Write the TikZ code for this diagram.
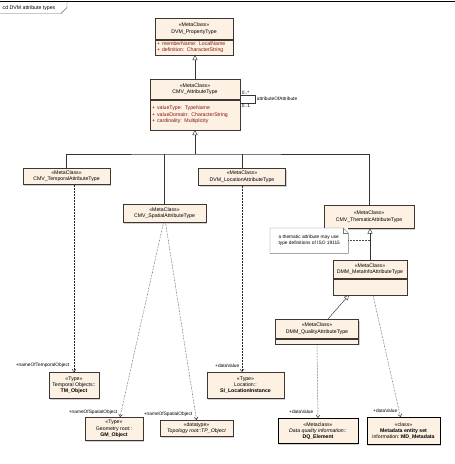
\documentclass[tikz,border=0pt]{standalone}
\usepackage{fontspec}
\setmainfont{Liberation Sans}
\usetikzlibrary{positioning,arrows.meta,shadows}

\definecolor{boxfill}{RGB}{252,241,226}
\definecolor{boxline}{RGB}{60,55,50}
\definecolor{attrred}{RGB}{135,20,20}
\newcommand{\boxfont}{\fontsize{5.2}{6.2}\selectfont}
\newcommand{\pub}{\textcolor{red!85!black}{+}\hspace{2pt}}

\begin{document}
\begin{tikzpicture}[x=1pt,y=-1pt]
  \tikzset{cls/.style={draw=boxline, fill=boxfill, line width=0.5pt, inner sep=1pt, align=center,
      font=\boxfont, drop shadow={shadow xshift=1.3pt, shadow yshift=-1.3pt, fill=black!35}},
    attrs/.style={cls, align=left, text=attrred, inner xsep=2pt},
    thickcls/.style={cls, draw=black, line width=0.9pt},
    gen/.style={-{Triangle[open,length=5pt,width=5pt]}, draw=black!80, line width=0.45pt},
    dep/.style={densely dotted, -{Straight Barb[length=2.5pt,width=4pt]}, draw=black!85, line width=0.5pt},
    lbl/.style={font=\fontsize{4.8}{5.6}\selectfont, inner sep=0.5pt},
    note/.style={fill=white, align=left, font=\fontsize{4.8}{6}\selectfont, inner sep=2pt}}
  \useasboundingbox (0,0) rectangle (455,464);

  \draw[line width=0.7pt] (0,1) -- (455,1);
  \draw[black!60, line width=0.4pt] (0,13.5) -- (61,13.5) -- (67,7.5) -- (67,1);
  \node[lbl, font=\fontsize{5.2}{6}\selectfont, anchor=west] (frame) at (2,8) {cd DVM attribute types};

  \node[cls, minimum width=78, minimum height=21, anchor=north] (prop) at (194,18) {«MetaClass»\\DVM\_PropertyType};
  \node[attrs, text width=74, minimum height=15, below=0pt of prop] (propA) {\pub memberName: LocalName\\\pub definition: CharacterString};

  \node[cls, minimum width=90, minimum height=20, anchor=north] (attr) at (195,79) {«MetaClass»\\CMV\_AttributeType};
  \node[attrs, text width=86, minimum height=30, below=0pt of attr] (attrA) {\pub valueType: TypeName\\\pub valueDomain: CharacterString\\\pub cardinality: Multiplicity};

  \node[cls, minimum width=87, minimum height=16, anchor=north] (temp) at (66.5,168) {«MetaClass»\\CMV\_TemporalAttributeType};
  \node[cls, minimum width=83, minimum height=18, anchor=north] (spat) at (164.5,204) {«MetaClass»\\CMV\_SpatialAttributeType};
  \node[cls, minimum width=87, minimum height=17, anchor=north] (loc) at (242,168) {«MetaClass»\\DVM\_LocationAttributeType};
  \node[cls, minimum width=90, minimum height=23, anchor=north] (them) at (369,205) {«MetaClass»\\CMV\_ThematicAttributeType};

  \node[cls, minimum width=74, minimum height=18, anchor=north] (meta) at (370,260) {«MetaClass»\\DMM\_MetaInfoAttributeType};
  \node[cls, minimum width=74, minimum height=16, below=0pt of meta] (metaA) {};
  \node[cls, minimum width=83, minimum height=19, anchor=north] (qual) at (317,319) {«MetaClass»\\DMM\_QualityAttributeType};
  \node[cls, minimum width=83, minimum height=5, below=0pt of qual] (qualA) {};

  \node[cls, minimum width=50, minimum height=26, anchor=north] (tm) at (74,372) {«Type»\\Temporal Objects::\\\textbf{TM\_Object}};
  \node[cls, minimum width=58, minimum height=23, anchor=north] (gm) at (114,417) {«Type»\\Geometry root::\\\textbf{GM\_Object}};
  \node[cls, minimum width=73, minimum height=16, anchor=north] (tp) at (196.5,420) {«datatype»\\\textit{Topology root::TP\_Object}};
  \node[cls, minimum width=77, minimum height=26, anchor=north] (si) at (245.5,372) {«Type»\\Location::\\\textbf{SI\_LocationInstance}};
  \node[thickcls, minimum width=80, minimum height=25, anchor=north] (dq) at (318,418) {«Metaclass»\\\textit{Data quality information::}\\\textbf{DQ\_Element}};
  \node[thickcls, minimum width=73, minimum height=27, anchor=north] (md) at (403.5,417) {«class»\\\textbf{Metadata entity set}\\information::\textbf{MD\_Metadata}};

  \node[note, minimum width=78, minimum height=25, anchor=north west] (note) at (270,228) {a thematic attribute may use\\type definitions of ISO 19115};
  \draw[black!55, line width=0.4pt] (note.north west) -- ([xshift=-5pt]note.north east) -- ([yshift=-5pt]note.north east) -- (note.south east) -- (note.south west) -- cycle;
  \draw[black!55, line width=0.4pt] ([xshift=-5pt]note.north east) -- ([xshift=-5pt,yshift=-5pt]note.north east) -- ([yshift=-5pt]note.north east);

  \draw[gen] (attr.north) -- (attr.north |- propA.south);
  \coordinate (bus) at (195,154);
  \draw[gen] (bus) -- (attrA.south);
  \draw[black!80, line width=0.45pt] (temp.north) |- (bus) -| (them.north);
  \draw[black!80, line width=0.45pt] (spat.north) -- (spat.north |- bus);
  \draw[black!80, line width=0.45pt] (loc.north) -- (loc.north |- bus);
  \draw[gen] (meta.north) -- (meta.north |- them.south);
  \draw[gen] ([xshift=11pt]qual.north) -- ([xshift=-21pt]metaA.south);
  \draw[densely dotted, black!70, line width=0.5pt] (note.east) -- (note.east -| meta.north);

  \draw[black!80, line width=0.45pt] ([yshift=-16pt]attr.north east) -- ++(15,0) |- ([yshift=-24pt]attr.north east);
  \node[lbl, anchor=south west] (mulA) at ([xshift=1pt,yshift=-16pt]attr.north east) {0..*};
  \node[lbl, anchor=north west] (mulB) at ([xshift=1pt,yshift=-24pt]attr.north east) {0..1};
  \node[lbl, anchor=west] (role) at ([xshift=16pt,yshift=-20pt]attr.north east) {attributeOfAttribute};

  \draw[dep] (temp.south -| tm.north) -- (tm.north);
  \draw[dep] ([xshift=-1pt]spat.south) -- ([xshift=6pt]gm.north);
  \draw[dep] ([xshift=1pt]spat.south) -- (tp.north);
  \draw[dep] (loc.south) -- (loc.south |- si.north);
  \draw[dep] (qualA.south) -- (dq.north);
  \draw[dep] ([xshift=3pt]metaA.south) -- ([xshift=-3pt]md.north);

  \node[lbl, anchor=east] (nTM) at (70,365) {+nameOfTemporalObject};
  \node[lbl, anchor=east] (nGM) at (118,412) {+nameOfSpatialObject};
  \node[lbl, anchor=east] (nTP) at (193,414) {+nameOfSpatialObject};
  \node[lbl, anchor=east] (vSI) at (240,366) {+dataValue};
  \node[lbl, anchor=east] (vDQ) at (314,412) {+dataValue};
  \node[lbl, anchor=east] (vMD) at (398,411) {+dataValue};
\end{tikzpicture}
\end{document}
